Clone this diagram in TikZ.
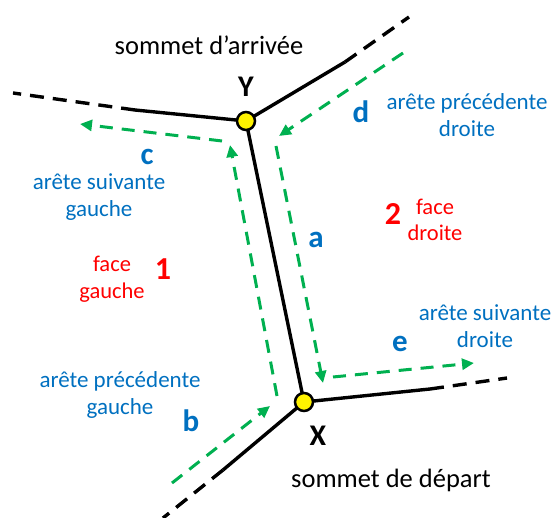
\documentclass[tikz,border=0pt]{standalone}
\usepackage{fontspec}
\setmainfont{Carlito}
\usetikzlibrary{arrows.meta}
\definecolor{myblue}{RGB}{0,112,192}
\definecolor{mygreen}{RGB}{0,176,80}
\definecolor{myred}{RGB}{255,0,0}
\tikzset{
  vert/.style={circle, draw=black, fill=yellow, line width=2.5bp, minimum size=18bp, inner sep=0pt},
  edge/.style={draw=black, line width=3.4bp},
  edgedash/.style={draw=black, line width=3.4bp, dash pattern=on 14bp off 9bp},
  garrow/.style={draw=mygreen, line width=3bp, dash pattern=on 13bp off 9bp, -{Triangle[length=12bp,width=11bp]}},
  blacktxt/.style={font=\fontsize{26.5bp}{30bp}\selectfont, text=black},
  bluetxt/.style={font=\fontsize{23bp}{26.5bp}\selectfont, text=myblue, align=center},
  redtxt/.style={font=\fontsize{22.5bp}{26.5bp}\selectfont, text=myred, align=center},
  letter/.style={font=\fontsize{31bp}{33bp}\selectfont\bfseries, text=myblue},
  num/.style={font=\fontsize{32bp}{34bp}\selectfont\bfseries, text=myred},
  vlabel/.style={font=\fontsize{30bp}{32bp}\selectfont\bfseries, text=black},
}
\begin{document}
\begin{tikzpicture}[x=1bp,y=-1bp]
\useasboundingbox (0,0) rectangle (554,518);
% coordinates
\coordinate (L1) at (135,110);
\coordinate (L2) at (13,93);
\coordinate (U1) at (345,62);
\coordinate (U2) at (409,17);
\coordinate (R1) at (430,389);
\coordinate (R2) at (507,378);
\coordinate (D1) at (223,470);
\coordinate (D2) at (163,518);
% edges
\draw[edgedash] (L1) -- (L2);
\draw[edgedash] (U1) -- (U2);
\draw[edgedash] (R1) -- (R2);
\draw[edgedash] (D1) -- (D2);
\coordinate (Yc) at (246,121);
\coordinate (Xc) at (304,402);
\draw[edge] (Yc) -- (L1);
\draw[edge] (Yc) -- (U1);
\draw[edge] (Xc) -- (R1);
\draw[edge] (Xc) -- (D1);
\draw[edge] (Yc) -- (Xc);
\node[vert] (Y) at (Yc) {};
\node[vert] (X) at (Xc) {};
% green arrows
\coordinate (b0) at (172,483);
\coordinate (b1) at (270,406);
\coordinate (a0) at (277,396);
\coordinate (a1) at (230,145);
\coordinate (c0) at (222,141);
\coordinate (c1) at (80,124);
\coordinate (d0) at (403,53);
\coordinate (d1) at (279,136);
\coordinate (r0) at (276,146);
\coordinate (r1) at (323,383);
\coordinate (e0) at (333,377);
\coordinate (e1) at (474,363);
\draw[garrow] (b0) -- (b1);
\draw[garrow] (a0) -- (a1);
\draw[garrow] (c0) -- (c1);
\draw[garrow] (d0) -- (d1);
\draw[garrow] (r0) -- (r1);
\draw[garrow] (e0) -- (e1);
% texts
\node[blacktxt] (tarr) at (209,45) {sommet d’arrivée};
\node[blacktxt] (tdep) at (391,480) {sommet de départ};
\node[vlabel] (ly) at (246,87) {Y};
\node[vlabel] (lx) at (318,436) {X};
\node[letter] (lc) at (147,157) {c};
\node[letter] (ld) at (361,112) {d};
\node[letter] (la) at (316,240) {a};
\node[letter] (lb) at (191,421) {b};
\node[letter] (le) at (400,344) {e};
\node[num] (n1) at (163,269) {1};
\node[num] (n2) at (393,214) {2};
\node[bluetxt] (tc) at (99,197) {arête suivante\\gauche};
\node[bluetxt] (tb) at (120,395) {arête précédente\\gauche};
\node[bluetxt] (td) at (467,115) {arête précédente\\droite};
\node[bluetxt] (te) at (485,326) {arête suivante\\droite};
\node[redtxt] (f1) at (112,279) {face\\gauche};
\node[redtxt] (f2) at (435,220) {face\\droite};
\end{tikzpicture}
\end{document}
